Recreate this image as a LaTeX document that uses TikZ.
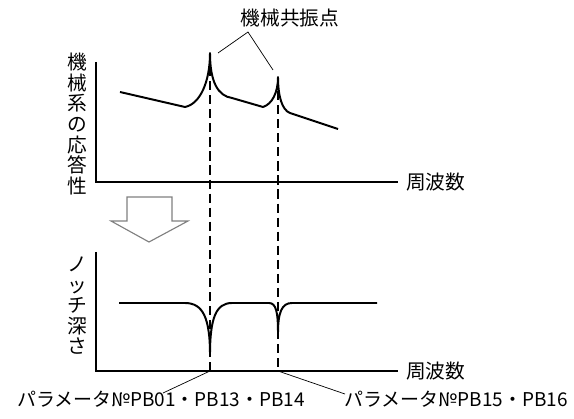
\documentclass[tikz,border=0pt]{standalone}
\usepackage{fontspec}
\setmainfont{Noto Sans CJK JP}
\usetikzlibrary{positioning,calc}

\begin{document}
\begin{tikzpicture}[
    x=0.025cm, y=-0.025cm,
    axis/.style={draw, line width=0.9pt},
    resp/.style={draw, line width=1.4pt, line join=round},
    guide/.style={draw, line width=0.8pt, dash pattern=on 6.5pt off 3.5pt},
    leader/.style={draw, line width=0.5pt},
    lbl/.style={font=\fontsize{14}{14}\selectfont, inner sep=0pt},
    parlbl/.style={font=\fontsize{13.5}{14}\selectfont, inner sep=0pt},
    vlbl/.style={font=\fontsize{14}{14.6}\selectfont, align=center, inner sep=0pt},
    hollow/.style={draw=gray, line width=0.8pt, fill=white}
]
    \useasboundingbox (0,0) rectangle (574,419);

    % axes
    \coordinate (top1) at (96,62);
    \coordinate (end1) at (398,182);
    \coordinate (top2) at (96,252);
    \coordinate (end2) at (398,371);
    \draw[axis] (top1) |- (end1);
    \draw[axis] (top2) |- (end2);

    \node[lbl, right=8 of end1] (f1) {周波数};
    \node[lbl, right=8 of end2] (f2) {周波数};
    \node[vlbl] (resplbl) at (77,124) {機\\械\\系\\の\\応\\答\\性};
    \node[vlbl] (notchlbl) at (77,306) {ノ\\ッ\\チ\\深\\さ};

    % peaks and dips
    \coordinate (pk1) at (210,53);
    \coordinate (pk2) at (278,77);
    \coordinate (dp1) at (210,355);
    \coordinate (dp2) at (278,333);
    \coordinate (tk1) at (210,371);
    \coordinate (tk2) at (278,371);

    \draw[resp] (120,92) -- (185,107) .. controls (200,104) and (210,82) .. (pk1)
        .. controls (210,82) and (218,96) .. (232,98) -- (263,107)
        .. controls (272,104) and (278,93) .. (pk2)
        .. controls (278,96) and (282,110) .. (290,113) -- (338,129);

    \draw[resp] (119,303) -- (185,303) .. controls (203,303) and (210,318) .. (dp1)
        .. controls (210,318) and (216,303) .. (232,303) -- (269,303)
        .. controls (276,303) and (278,312) .. (dp2)
        .. controls (278,312) and (282,303) .. (292,303) -- (377,303);

    \draw[guide] (pk1) -- (tk1);
    \draw[guide] (pk2) -- (tk2);

    % resonance label
    \node[lbl] (reso) at (290,18) {機械共振点};
    \coordinate (rs) at (248,32);
    \coordinate (rsA) at (218,53);
    \coordinate (rsB) at (273,70);
    \draw[leader] (rsA) -- (rs) -- (rsB);

    % parameter labels
    \node[parlbl] (par1) at (161,399) {パラメータ№PB01・PB13・PB14};
    \node[parlbl] (par2) at (456,399) {パラメータ№PB15・PB16};
    \coordinate (pl1) at (163,393);
    \coordinate (pl2) at (345,394);
    \draw[leader] (tk1) -- (pl1);
    \draw[leader] (tk2) -- (pl2);

    % hollow arrow
    \draw[hollow] (127,197) -- (172,197) -- (172,221) -- (188,221) -- (149,242)
        -- (111,221) -- (127,221) -- cycle;
\end{tikzpicture}
\end{document}
